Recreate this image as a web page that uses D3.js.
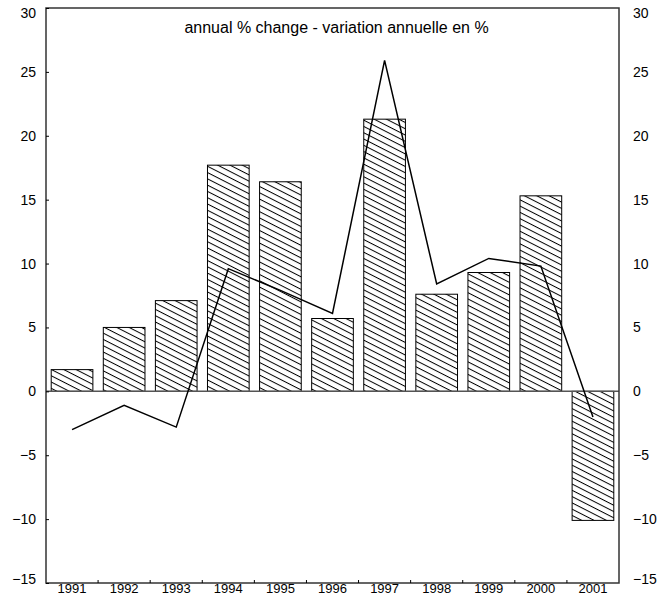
<!DOCTYPE html>
<html>
<head>
<meta charset="utf-8">
<script src="https://cdn.jsdelivr.net/npm/d3@7"></script>
<style>
  html, body { margin: 0; padding: 0; background: #fff; overflow: hidden; }
  svg { display: block; }
  text { font-family: "Liberation Sans", Arial, sans-serif; fill: #000; }
</style>
</head>
<body>
<svg width="666" height="599"></svg>
<script>
const years = ["1991", "1992", "1993", "1994", "1995", "1996", "1997", "1998", "1999", "2000", "2001"];
const barValues = [1.7, 5.0, 7.1, 17.7, 16.4, 5.7, 21.3, 7.6, 9.3, 15.3, -10.1];
const lineValues = [-3.0, -1.1, -2.8, 9.6, 7.9, 6.1, 25.9, 8.4, 10.4, 9.8, -2.0];
const yTicks = [-15, -10, -5, 0, 5, 10, 15, 20, 25, 30];
const title = "annual % change - variation annuelle en %";

const svg = d3.select("svg");
const margin = { top: 8, right: 47, bottom: 16, left: 46 };
const width = +svg.attr("width");
const height = +svg.attr("height");
const innerWidth = width - margin.left - margin.right;
const innerHeight = height - margin.top - margin.bottom;

// hatch pattern for the bars
const defs = svg.append("defs");
const pat = defs.append("pattern")
  .attr("id", "hatch")
  .attr("patternUnits", "userSpaceOnUse")
  .attr("width", 12)
  .attr("height", 5.6)
  .attr("patternTransform", "rotate(27)");
pat.append("rect").attr("width", 12).attr("height", 5.6).attr("fill", "#fff");
pat.append("line")
  .attr("x1", 0).attr("x2", 12)
  .attr("y1", 0.5).attr("y2", 0.5)
  .attr("stroke", "#000")
  .attr("stroke-width", 1);

const g = svg.append("g")
  .attr("transform", `translate(${margin.left},${margin.top})`);

const xScale = d3.scaleBand()
  .domain(years)
  .range([0, innerWidth])
  .paddingInner(0.2)
  .paddingOuter(0.1);

const xBound = d3.scaleLinear()
  .domain([0, years.length])
  .range([0, innerWidth]);

const yScale = d3.scaleLinear()
  .domain([-15, 30])
  .range([innerHeight, 0]);

// bars
g.selectAll("rect.bar")
  .data(barValues)
  .enter()
  .append("rect")
  .attr("class", "bar")
  .attr("x", (d, i) => xScale(years[i]))
  .attr("width", xScale.bandwidth())
  .attr("y", d => yScale(Math.max(0, d)))
  .attr("height", d => Math.abs(yScale(d) - yScale(0)))
  .attr("fill", "url(#hatch)")
  .attr("stroke", "#000")
  .attr("stroke-width", 1);

// zero line
g.append("line")
  .attr("x1", 0).attr("x2", innerWidth)
  .attr("y1", yScale(0)).attr("y2", yScale(0))
  .attr("stroke", "#555")
  .attr("stroke-width", 1.5);

// line series
const line = d3.line()
  .x((d, i) => xScale(years[i]) + xScale.bandwidth() / 2)
  .y(d => yScale(d));

g.append("path")
  .datum(lineValues)
  .attr("d", line)
  .attr("fill", "none")
  .attr("stroke", "#000")
  .attr("stroke-width", 1.5);

// frame
g.append("rect")
  .attr("width", innerWidth)
  .attr("height", innerHeight)
  .attr("fill", "none")
  .attr("stroke", "#333")
  .attr("stroke-width", 1.5);

// edge labels sit a little inside the frame, as in the original
const labelShift = d => d === 30 ? 5 : d === -15 ? -4 : 0;

// left axis (labels placed start-anchored from their measured width)
const yAxisL = d3.axisLeft(yScale).tickValues(yTicks).tickSize(-3).tickPadding(10);
const yAxisLG = g.append("g").call(yAxisL);
yAxisLG.select(".domain").remove();
yAxisLG.attr("text-anchor", null);
yAxisLG.selectAll("text")
  .style("font-size", "14px")
  .attr("text-anchor", "start")
  .attr("y", d => labelShift(d))
  .attr("x", function() { return -10 - this.getComputedTextLength(); });

// right axis
const yAxisR = d3.axisRight(yScale).tickValues(yTicks).tickSize(0).tickPadding(14);
const yAxisRG = g.append("g")
  .attr("transform", `translate(${innerWidth},0)`)
  .call(yAxisR);
yAxisRG.select(".domain").remove();
yAxisRG.selectAll("text")
  .attr("text-anchor", "start")
  .style("font-size", "14px")
  .attr("y", d => labelShift(d));

// bottom ticks at category boundaries
g.selectAll("line.xtick")
  .data(d3.range(1, years.length))
  .enter()
  .append("line")
  .attr("class", "xtick")
  .attr("x1", d => xBound(d)).attr("x2", d => xBound(d))
  .attr("y1", innerHeight).attr("y2", innerHeight - 3)
  .attr("stroke", "#000");

// year labels
g.selectAll("text.year")
  .data(years)
  .enter()
  .append("text")
  .attr("class", "year")
  .attr("y", innerHeight + 10)
  .attr("text-anchor", "start")
  .style("font-size", "13px")
  .text(d => d)
  .attr("x", function(d) {
    return xScale(d) + xScale.bandwidth() / 2 - this.getComputedTextLength() / 2;
  });

// title
g.append("text")
  .attr("y", 25)
  .attr("text-anchor", "start")
  .style("font-size", "16px")
  .text(title)
  .attr("x", function() { return innerWidth / 2 + 4 - this.getComputedTextLength() / 2; });
</script>
</body>
</html>
